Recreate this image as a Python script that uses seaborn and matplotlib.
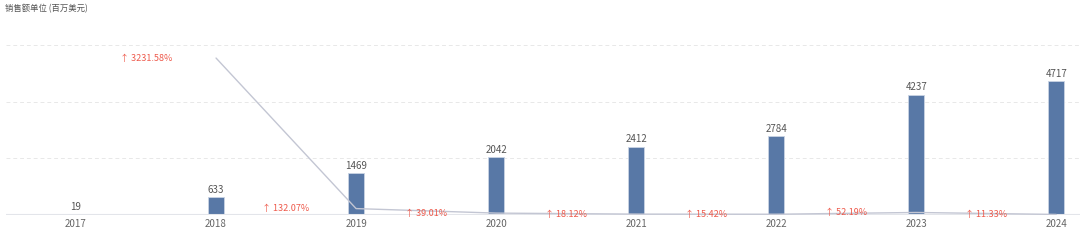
import matplotlib
matplotlib.use("Agg")
import matplotlib.pyplot as plt
import seaborn as sns
import pandas as pd

years = ["2017", "2018", "2019", "2020", "2021", "2022", "2023", "2024"]
sales = [19, 633, 1469, 2042, 2412, 2784, 4237, 4717]
growth = [None, 3231.58, 132.07, 39.01, 18.12, 15.42, 52.19, 11.33]
title = "销售额单位 (百万美元)"

sns.set_theme(style="white")
plt.rcParams['font.family'] = ['Noto Sans CJK SC', 'DejaVu Sans']

fig = plt.figure(figsize=(10.8, 2.43), dpi=100)
ax = fig.add_axes([6/1080, 1 - 215/243, 1 - 6/1080, 170/243])

df = pd.DataFrame({"year": years, "sales": sales})
sns.barplot(data=df, x="year", y="sales", color="#5878a6", width=0.114,
            saturation=1, edgecolor="#c9d3e3", linewidth=0.6, ax=ax, zorder=3)
ax.set_ylim(0, 6000)
ax.set_xlim(-0.5, 7.17)
ax.set_yticks([0, 2000, 4000, 6000])
ax.set_yticklabels([])
ax.tick_params(axis="y", length=0)
ax.grid(axis="y", color="#e8e8e8", linestyle=(0, (4, 3)), linewidth=0.7)
for s in ax.spines.values():
    s.set_visible(False)
ax.axhline(0, color="#e3e5ea", linewidth=1.5, zorder=4)
ax.set_xlabel("")
ax.set_ylabel("")
ax.tick_params(axis="x", length=0, pad=3, labelsize=7, labelcolor="#666666")

for i, v in enumerate(sales):
    ax.text(i, v + 90, str(v), ha="center", va="bottom", fontsize=7, color="#555555", zorder=5)

ax2 = ax.twinx()
idx = [i for i, g in enumerate(growth) if g is not None]
gv = [g for g in growth if g is not None]
sns.lineplot(x=idx, y=gv, ax=ax2, color="#c3c6d3", linewidth=1.0, zorder=2)
ax2.set_ylim(0, 3500)
ax2.set_yticks([])
for s in ax2.spines.values():
    s.set_visible(False)
ax2.set_ylabel("")

for i, g in zip(idx, gv):
    ax2.text(i - 0.5, g, "↑ " + f"{g:.2f}%", ha="center", va="center",
             fontsize=6.5, color="#ee5a4c", zorder=6)

fig.text(5/1080, 1 - 9/243, title, ha="left", va="center", fontsize=6, color="#555555")

fig.savefig("out.png", dpi=100)
